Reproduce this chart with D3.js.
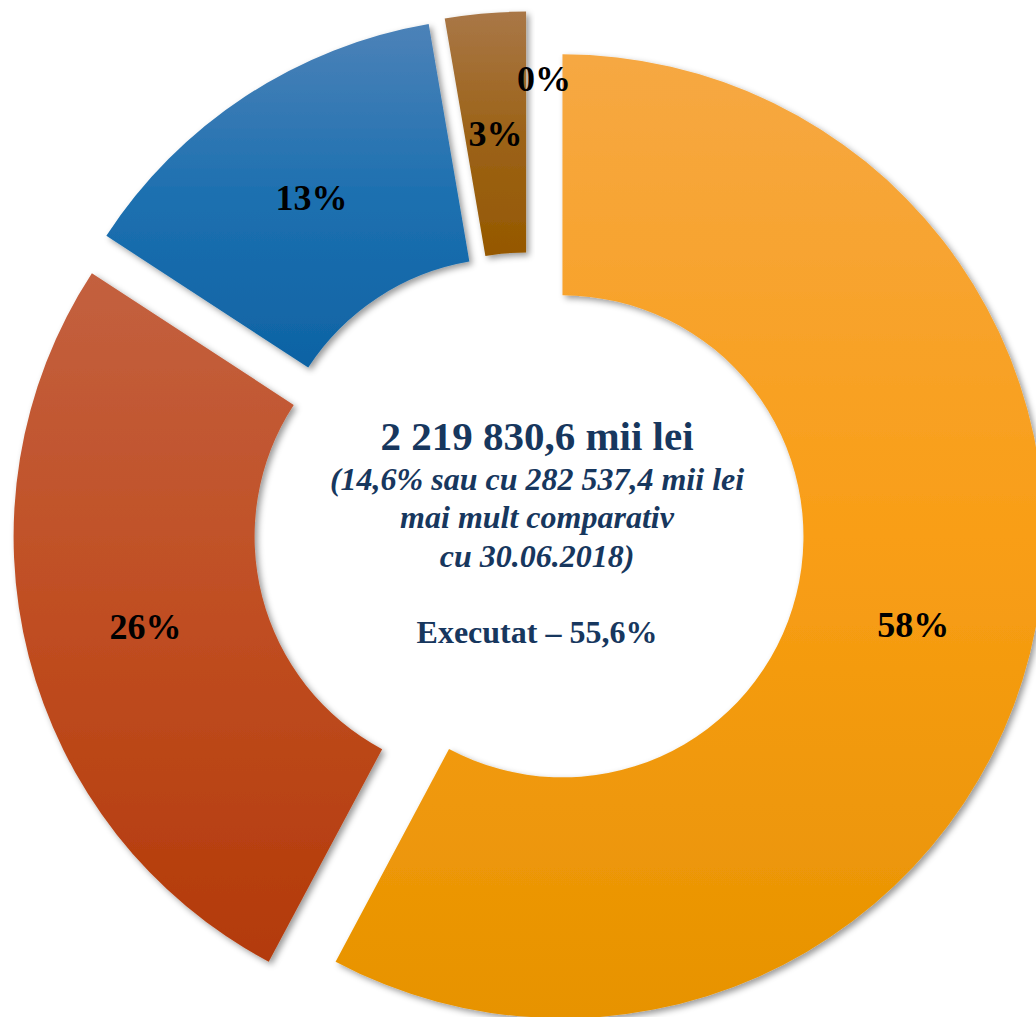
<!DOCTYPE html>
<html>
<head>
<meta charset="utf-8">
<script src="https://cdn.jsdelivr.net/npm/d3@7"></script>
<style>
body{margin:0;background:#fff;overflow:hidden;}
svg{display:block;}
</style>
</head>
<body>
<script>
var width = 1036;
var height = 1017;

// slice shares, in %, clockwise from the top
var categories = ['A','B','C','D','E'];
var values = [57.8, 26.4, 13.1, 2.7, 0.0];
var topColors = ['#F6A843','#C3603F','#4C82B8','#A97747','#A97747'];
var midColors = ['#F99E16','#C04E22','#1D70B0','#9C6318','#9C6318'];
var bottomColors = ['#E79300','#B33A09','#0E63A4','#955800','#955800'];
var centerLines = ['2 219 830,6 mii lei','(14,6% sau cu 282 537,4 mii lei','mai mult comparativ','cu 30.06.2018)','Executat \u2013 55,6%'];

var cx = 529, cy = 528;
var outerR = 482, innerR = 241;
var explode = 34.5;

var svg = d3.select('body').append('svg')
	.attr('width',width)
	.attr('height',height);

var defs = svg.append('defs');
var shadow = defs.append('filter').attr('id','shadow')
	.attr('x','-10%').attr('y','-10%').attr('width','120%').attr('height','120%');
shadow.append('feDropShadow')
	.attr('dx',3).attr('dy',3).attr('stdDeviation',3)
	.attr('flood-color','#000').attr('flood-opacity',0.4);

categories.forEach(function(c,i){
	var g = defs.append('linearGradient').attr('id','grad'+i)
		.attr('x1',0).attr('y1',0).attr('x2',0).attr('y2',1);
	g.append('stop').attr('offset','0%').attr('stop-color',topColors[i]);
	g.append('stop').attr('offset','50%').attr('stop-color',midColors[i]);
	g.append('stop').attr('offset','100%').attr('stop-color',bottomColors[i]);
});

var pie = d3.pie().sort(null).value(function(d){return d;});
var arcs = pie(values);
var arc = d3.arc().innerRadius(innerR).outerRadius(outerR);
var labelArc = d3.arc().innerRadius((innerR+outerR)/2).outerRadius((innerR+outerR)/2);

function offset(d){
	var a = (d.startAngle+d.endAngle)/2;
	return [explode*Math.sin(a), -explode*Math.cos(a)];
}

var chart = svg.append('g').attr('transform','translate('+cx+','+cy+')');

chart.selectAll('path')
	.data(arcs.filter(function(d){return d.value>0;}))
	.enter()
	.append('path')
	.attr('d',arc)
	.attr('fill',function(d){return 'url(#grad'+d.index+')';})
	.attr('filter','url(#shadow)')
	.attr('transform',function(d){var o=offset(d);return 'translate('+o[0]+','+o[1]+')';});

chart.selectAll('text.lbl')
	.data(arcs)
	.enter()
	.append('text')
	.attr('class','lbl')
	.attr('transform',function(d){
		var o = offset(d), p;
		if(d.value>0){ p = labelArc.centroid(d); }
		else { p = [15, -450+explode]; }
		return 'translate('+(p[0]+o[0])+','+(p[1]+o[1])+')';
	})
	.attr('dy','0.35em')
	.attr('text-anchor','middle')
	.style('font-family','"Liberation Serif","Times New Roman",serif')
	.style('font-weight','bold')
	.style('font-size','36px')
	.attr('fill','#000')
	.text(function(d){return Math.round(d.value)+'%';});

var lineY = [450,490,528,567,643];
var lineSize = [41,32,32,32,32];
svg.append('g').selectAll('text')
	.data(centerLines)
	.enter()
	.append('text')
	.attr('x',537)
	.attr('y',function(d,i){return lineY[i];})
	.attr('text-anchor','middle')
	.style('font-family','"Liberation Serif","Times New Roman",serif')
	.style('font-weight','bold')
	.style('font-style',function(d,i){return (i>0&&i<4)?'italic':'normal';})
	.style('font-size',function(d,i){return lineSize[i]+'px';})
	.attr('fill','#17375E')
	.text(function(d){return d;});
</script>
</body>
</html>
